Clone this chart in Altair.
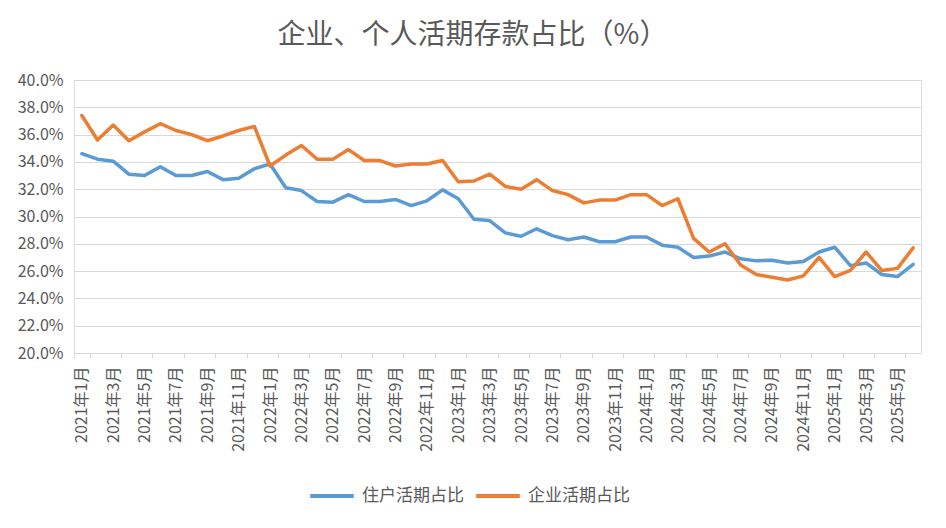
import altair as alt
import pandas as pd

# Categories: monthly, 2021-01 .. 2025-06
months = [f"{y}年{m}月" for y in range(2021, 2026) for m in range(1, 13)][:54]

household = [
    34.6, 34.2, 34.05, 33.1, 33.0, 33.65, 33.0, 33.0, 33.3, 32.7, 32.8, 33.5,
    33.85, 32.1, 31.9, 31.1, 31.05, 31.6, 31.1, 31.1, 31.25, 30.8, 31.15, 31.95,
    31.3, 29.8, 29.7, 28.8, 28.55, 29.1, 28.6, 28.3, 28.5, 28.15, 28.15, 28.5,
    28.5, 27.9, 27.75, 27.0, 27.1, 27.4, 26.9, 26.75, 26.8, 26.6, 26.7, 27.4,
    27.75, 26.4, 26.6, 25.75, 25.6, 26.5,
]
corporate = [
    37.4, 35.6, 36.7, 35.55, 36.2, 36.8, 36.3, 36.0, 35.55, 35.9, 36.3, 36.6,
    33.7, 34.5, 35.2, 34.2, 34.2, 34.9, 34.1, 34.1, 33.7, 33.85, 33.85, 34.1,
    32.55, 32.6, 33.1, 32.2, 32.0, 32.7, 31.9, 31.6, 31.0, 31.2, 31.2, 31.6,
    31.6, 30.8, 31.3, 28.4, 27.4, 28.0, 26.45, 25.75, 25.55, 25.35, 25.65, 27.0,
    25.6, 26.05, 27.4, 26.05, 26.2, 27.7,
]
series_names = ["住户活期占比", "企业活期占比"]
series_colors = ["#5B9BD5", "#ED7D31"]
y_ticks = [20, 22, 24, 26, 28, 30, 32, 34, 36, 38, 40]

rows = []
for i, m in enumerate(months):
    rows.append({"month": m, "series": series_names[0], "value": household[i]})
    rows.append({"month": m, "series": series_names[1], "value": corporate[i]})
df = pd.DataFrame(rows)

FONT = "Noto Sans CJK SC"
TXT = "#595959"

chart = (
    alt.Chart(df)
    .mark_line(strokeWidth=3.5, strokeCap="round", strokeJoin="round")
    .encode(
        x=alt.X(
            "month:N",
            sort=months,
            scale=alt.Scale(type="band", domain=months, paddingInner=0, paddingOuter=0),
            axis=alt.Axis(
                title=None,
                values=months[::2],
                labelAngle=-90,
                labelFontSize=16,
                labelColor=TXT,
                labelFont=FONT,
                labelPadding=8,
                tickBand="extent",
                tickSize=5,
                tickColor="#D9D9D9",
                domainColor="#D9D9D9",
                grid=False,
            ),
        ),
        y=alt.Y(
            "value:Q",
            scale=alt.Scale(domain=[20, 40], nice=False, zero=False),
            axis=alt.Axis(
                title=None,
                values=y_ticks,
                labelExpr="format(datum.value, '.1f') + '%'",
                labelFontSize=16,
                labelColor=TXT,
                labelFont=FONT,
                labelPadding=11,
                ticks=False,
                domain=False,
                gridColor="#D9D9D9",
                gridWidth=1,
            ),
        ),
        color=alt.Color(
            "series:N",
            scale=alt.Scale(domain=series_names, range=series_colors),
            legend=alt.Legend(
                title=None,
                orient="none",
                direction="horizontal",
                legendX=234,
                legendY=392,
                symbolType="stroke",
                symbolSize=1900,
                symbolStrokeWidth=4,
                labelFontSize=17,
                labelFont=FONT,
                labelColor=TXT,
                columnPadding=4,
                labelOffset=6,
            ),
        ),
    )
    .properties(
        width=847,
        height=273,
        title=alt.TitleParams(
            "企业、个人活期存款占比（%）",
            fontSize=28,
            font=FONT,
            fontWeight="normal",
            color=TXT,
            anchor="middle",
            dx=-25,
            offset=22,
        ),
        autosize=alt.AutoSizeParams(type="none"),
        padding={"left": 66, "top": 72, "right": 17, "bottom": 167},
    )
    .configure_view(stroke=None)
    .configure(background="white")
)

chart.save("out.html", embed_options={"renderer": "svg", "actions": False})
